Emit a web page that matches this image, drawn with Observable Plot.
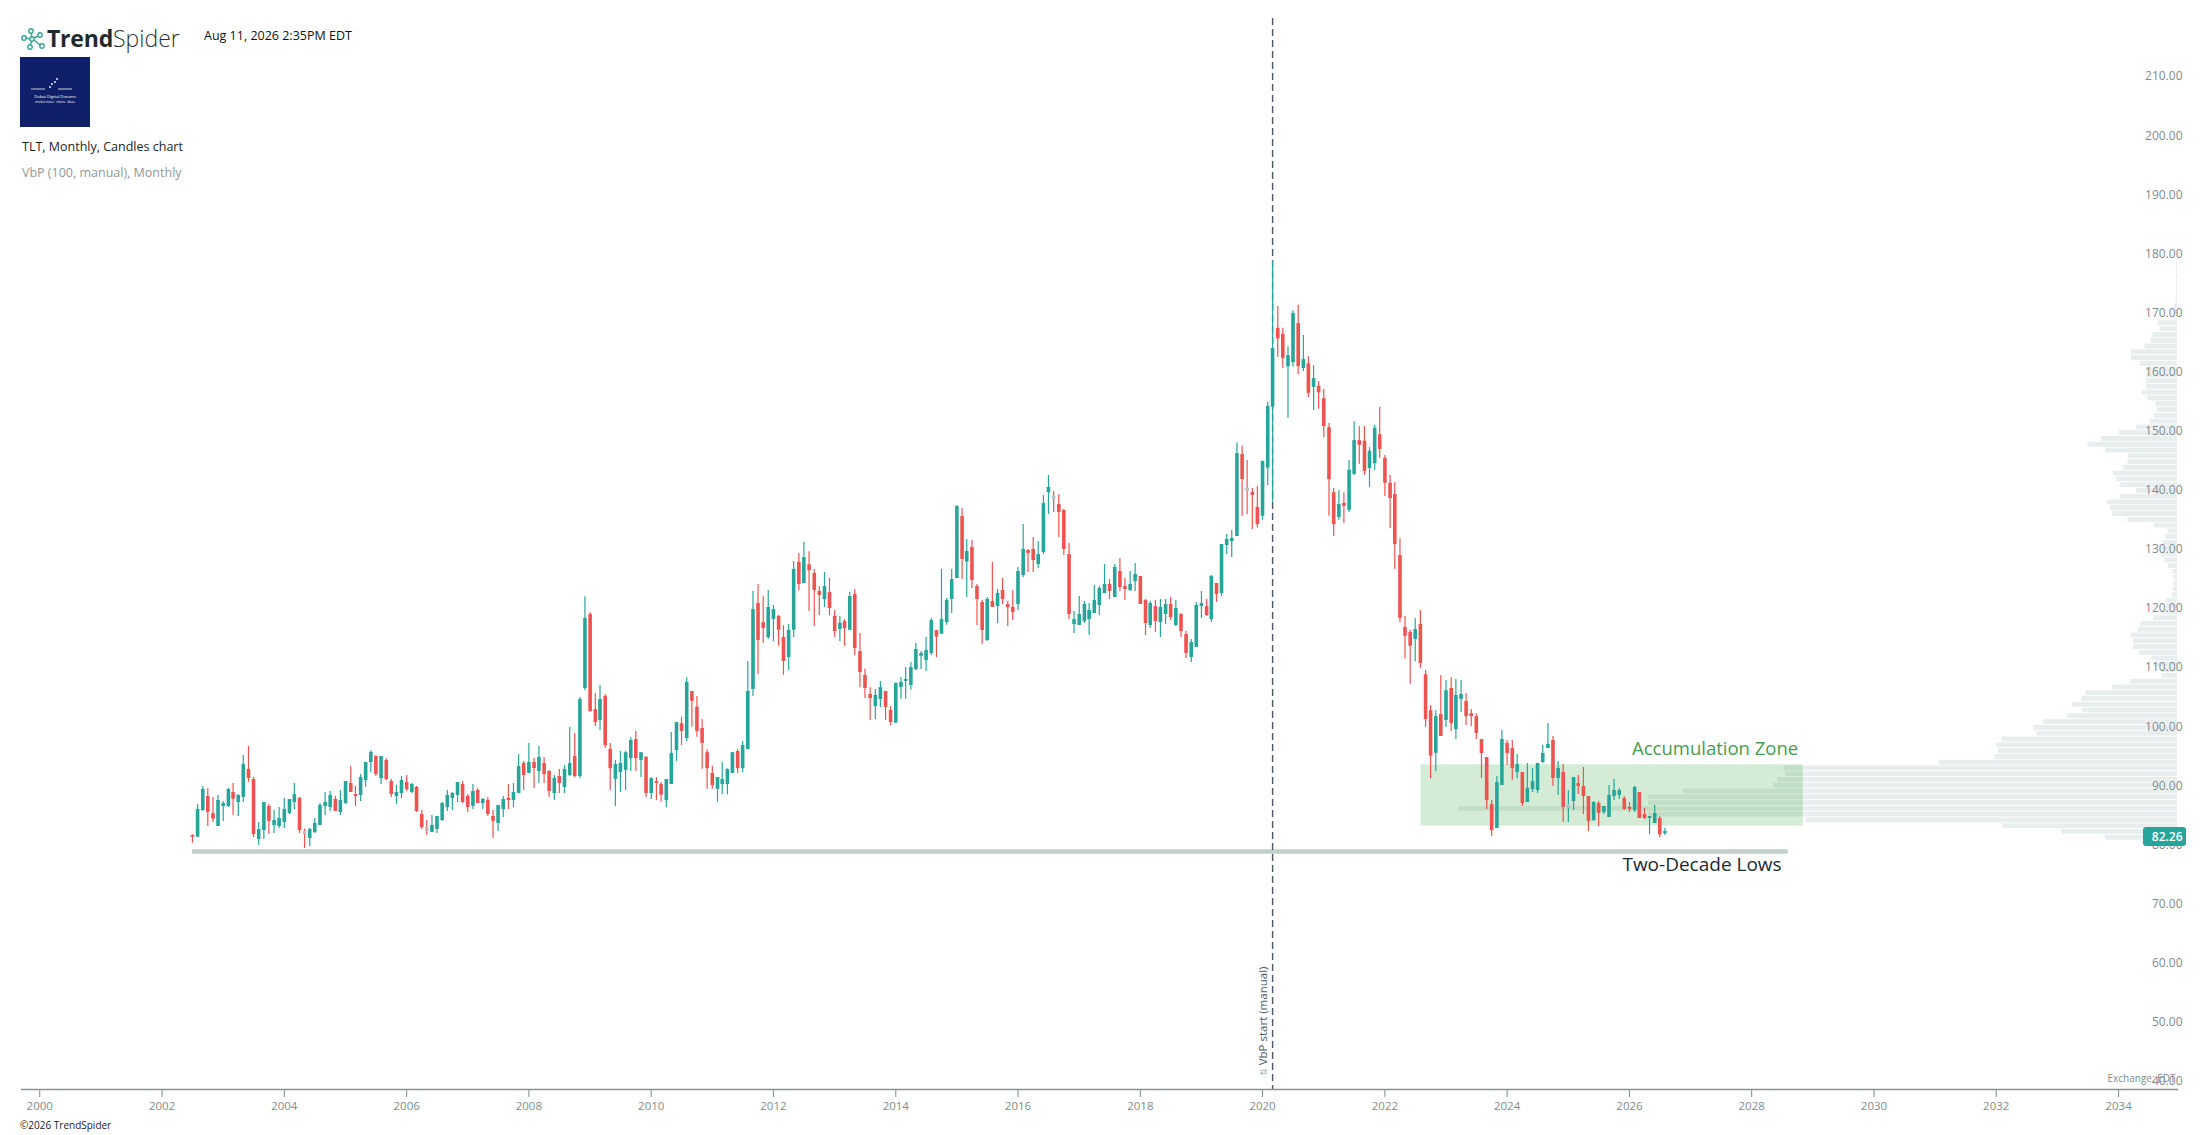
<!DOCTYPE html>
<html>
<head>
<meta charset="utf-8">
<script src="https://cdn.jsdelivr.net/npm/d3@7"></script>
<script src="https://cdn.jsdelivr.net/npm/@observablehq/plot@0.6"></script>
<style>
  html, body { margin: 0; padding: 0; background: #fff; }
  #wrap { position: relative; width: 2207px; height: 1135px; overflow: hidden; font-family: 'Open Sans', sans-serif; }
  #chart { position: absolute; left: 0; top: 0; }
  .hdr { position: absolute; white-space: nowrap; }
</style>
</head>
<body>
<div id="wrap">
  <div id="chart"></div>
  <div class="hdr" style="left:20px;top:22px;">
    <svg width="27" height="25" viewBox="0 0 27 25" style="vertical-align:middle">
      <g fill="none" stroke="#3aa596" stroke-width="1.4">
        <circle cx="4" cy="12" r="2.2"/><circle cx="11" cy="5" r="2.2"/><circle cx="12" cy="13" r="2.2"/>
        <circle cx="10" cy="21" r="2.2"/><circle cx="20" cy="9" r="2.2"/><circle cx="22" cy="20" r="2.2"/>
        <path d="M6 12 L10 13 M11 7 L12 11 M12 15 L10 19 M14 12 L18 10 M14 14 L20 19"/>
      </g>
    </svg><span style="font-size:23px;color:#1f2b2b;font-weight:700;vertical-align:middle;letter-spacing:-0.2px">Trend</span><span style="font-size:23px;color:#2b3636;font-weight:300;vertical-align:middle">Spider</span>
  </div>
  <div class="hdr" style="left:204px;top:27px;font-size:12.5px;color:#111;font-weight:500">Aug 11, 2026 2:35PM EDT</div>
  <div class="hdr" style="left:20px;top:57px;width:70px;height:70px;background:#0f1f69;">
    <svg width="70" height="70" viewBox="0 0 70 70">
      <g stroke="#fff" stroke-width="0.8" fill="#fff">
        <line x1="11" y1="32" x2="25" y2="32"/><line x1="38" y1="32" x2="52" y2="32"/>
        <circle cx="30" cy="30" r="0.6"/><circle cx="32" cy="27" r="0.6"/><circle cx="35" cy="25" r="0.6"/><circle cx="37" cy="22" r="0.6"/>
      </g>
      <text x="35" y="41" fill="#fff" font-size="4.2" text-anchor="middle">Dubai Digital Dreams</text>
      <text x="35" y="46" fill="#fff" font-size="3" text-anchor="middle">market notes · charts · ideas</text>
    </svg>
  </div>
  <div class="hdr" style="left:22px;top:138px;font-size:12.5px;color:#1c2626">TLT, Monthly, Candles chart</div>
  <div class="hdr" style="left:22px;top:164px;font-size:12.5px;color:#8e9a9a">VbP (100, manual), Monthly</div>
  <div class="hdr" style="left:20px;top:1118px;font-size:10px;color:#222">©2026 TrendSpider</div>
</div>
<script>
// ---------------- DATA ----------------
const firstMonth = "2002-07-01";   // first monthly candle (TLT)
const open = [
81.59,81.30,85.82,88.19,85.31,83.11,86.50,86.50,88.86,87.17,88.02,92.76,91.06,80.91,82.43,86.50,83.28,83.11,83.79,85.31,
87.17,87.85,82.04,81.08,82.10,83.28,86.50,86.33,87.68,85.48,87.00,90.39,88.52,88.36,90.89,93.94,94.95,91.23,94.28,90.72,
88.19,88.69,90.56,88.86,89.71,85.14,82.55,82.10,82.60,84.13,86.33,87.85,88.36,90.22,88.19,86.50,89.20,87.00,87.51,84.80,
83.62,85.99,87.85,87.51,88.69,93.77,92.08,93.94,92.42,93.77,92.42,88.69,91.57,89.71,91.74,94.96,91.57,106.46,118.99,102.90,
101.05,105.10,96.14,91.07,92.25,92.60,94.60,97.80,94.28,94.80,88.70,90.70,90.20,87.50,90.20,95.97,100.50,98.00,105.96,103.30,
99.70,95.60,92.08,89.40,90.20,90.20,92.08,95.80,92.90,96.14,106.30,120.85,117.60,115.09,118.14,118.65,115.09,111.70,116.30,127.80,
124.23,127.40,125.92,122.88,121.50,122.70,118.65,116.45,117.80,116.30,122.37,112.70,108.66,105.45,103.40,104.60,105.96,102.74,100.60,106.63,
107.64,106.97,109.67,111.93,111.20,112.38,116.27,115.65,117.63,121.52,125.07,135.56,127.84,130.32,123.72,121.01,114.58,121.18,120.33,123.04,
120.67,120.17,120.67,125.58,129.81,129.98,127.44,129.47,139.62,138.72,137.59,136.58,129.13,117.29,117.12,117.80,118.13,119.15,120.50,122.53,
124.06,121.86,126.26,123.72,123.04,124.56,125.41,121.35,117.12,120.33,117.63,118.98,120.67,117.12,118.98,115.60,111.70,113.40,120.33,120.33,
118.13,124.23,122.53,130.66,131.33,132.18,146.05,140.07,139.62,137.09,135.60,143.75,154.07,167.40,166.40,160.90,161.60,168.20,160.60,161.40,
157.40,157.60,155.50,150.60,139.60,135.40,137.77,136.60,142.70,148.40,148.30,143.70,144.50,149.40,145.40,141.20,139.30,128.97,116.80,115.95,
114.76,117.30,108.80,102.70,95.50,102.06,101.05,106.46,99.50,104.60,104.26,102.20,101.70,97.83,94.79,86.83,82.77,90.05,97.16,96.30,
92.25,92.25,87.17,89.37,89.20,93.94,96.30,97.66,91.23,92.25,86.50,87.34,90.39,89.88,88.19,84.13,87.00,85.48,84.63,88.19,
88.36,87.85,86.33,85.82,88.87,85.14,84.47,83.62,84.47,81.90];
const high = [
81.70,86.83,89.88,89.54,88.02,88.36,87.34,89.54,90.39,88.52,95.12,96.65,91.40,83.79,87.17,86.83,85.82,86.33,87.85,87.68,
90.39,88.02,82.70,82.77,84.46,87.00,88.86,89.03,88.19,89.20,90.72,93.26,89.88,91.91,93.94,95.97,95.12,94.95,94.62,91.06,
90.05,91.57,91.74,90.39,89.88,85.82,84.13,84.97,84.80,87.17,89.20,88.86,90.56,90.72,88.52,90.22,89.54,87.85,88.02,85.82,
86.66,88.19,90.22,90.39,95.29,94.11,97.15,94.62,96.65,94.79,92.59,91.74,92.76,93.43,99.86,98.85,104.94,122.00,119.30,105.60,
106.97,105.45,97.16,94.30,95.80,95.80,98.17,99.20,95.60,94.96,91.40,91.40,90.56,91.07,99.00,100.70,101.60,108.30,105.96,105.10,
101.20,96.10,93.30,91.40,93.95,92.90,95.60,96.14,97.50,111.03,122.88,124.06,122.00,123.05,120.50,118.80,117.10,117.30,127.95,129.30,
131.20,129.60,126.60,123.70,126.09,125.08,119.66,118.65,118.14,122.70,123.20,115.77,109.70,106.60,106.30,107.65,105.96,103.40,107.40,108.32,
110.01,110.86,114.07,112.72,115.09,118.30,116.27,126.60,121.69,126.60,137.42,136.92,131.67,131.50,124.06,121.35,121.86,127.78,123.21,125.07,
121.18,123.04,126.93,134.21,129.98,132.01,131.33,139.12,142.50,139.79,139.29,136.75,131.00,119.49,122.03,121.18,120.84,123.89,123.72,127.44,
124.90,127.44,128.46,125.07,126.26,127.61,125.41,121.52,121.18,121.35,121.52,121.52,121.86,121.35,119.15,116.10,114.75,121.01,122.87,121.52,
125.58,124.23,130.83,132.52,133.19,148.00,147.50,145.04,140.30,140.64,144.90,154.90,178.70,171.10,167.40,164.30,170.40,171.30,166.20,162.60,
161.10,158.40,157.06,151.30,140.30,139.97,139.60,145.05,151.60,150.80,150.80,147.25,150.97,154.00,145.90,142.50,141.30,131.80,118.70,116.30,
118.30,119.67,109.50,103.60,102.70,108.66,107.80,108.30,107.99,107.80,105.60,102.90,102.20,97.83,94.79,87.50,91.57,99.36,97.66,97.66,
95.30,92.25,93.77,92.93,93.77,96.80,100.54,98.34,94.10,93.60,89.20,91.40,91.74,93.10,88.19,87.34,87.34,86.50,90.05,91.07,
89.55,88.19,87.17,89.88,88.87,86.16,84.80,86.67,84.80,82.80];
const low = [
80.29,81.30,85.65,83.11,83.79,83.11,83.96,86.33,84.97,84.80,87.17,90.56,81.25,79.90,80.91,81.76,81.93,82.77,82.77,85.14,
85.99,81.93,79.39,79.73,81.93,83.28,84.97,85.65,85.65,84.97,86.83,88.86,86.50,87.34,89.71,92.25,91.57,90.22,90.89,88.02,
86.83,87.85,89.03,88.69,85.48,82.60,81.59,82.10,81.93,83.96,85.65,85.82,87.17,87.00,85.48,85.99,87.00,85.99,84.80,81.08,
82.26,84.63,85.99,86.33,88.69,89.20,92.08,89.54,90.39,90.39,88.02,87.51,88.69,88.69,91.57,91.30,91.20,106.10,102.40,100.03,
99.36,96.30,89.20,86.50,88.90,89.20,92.40,92.40,91.40,88.00,87.70,87.50,87.20,86.30,90.20,94.10,96.80,97.50,99.90,98.20,
92.80,89.40,89.40,87.20,88.50,88.50,92.08,92.08,92.25,96.14,105.10,108.80,114.08,114.75,114.40,113.60,108.70,109.50,115.09,123.05,
124.23,119.50,116.95,118.80,120.17,118.80,115.09,114.40,113.60,116.30,112.05,106.60,104.77,101.05,101.20,103.25,101.05,100.20,100.60,104.65,
104.65,106.18,109.50,109.67,109.34,112.04,111.70,115.65,117.18,119.15,125.07,124.90,121.86,123.38,117.12,113.90,114.41,120.17,117.46,120.67,
116.95,117.96,119.66,125.24,126.09,126.09,126.76,129.13,135.90,136.24,132.01,128.97,118.13,115.77,117.12,117.46,115.43,119.15,118.81,122.53,
121.52,121.86,122.87,121.35,122.87,122.87,120.67,115.43,116.61,115.94,115.09,117.29,117.96,116.95,115.09,111.53,110.86,113.40,118.30,118.64,
117.63,121.01,122.03,129.13,128.63,132.18,135.56,135.90,133.36,133.60,134.95,140.80,138.00,162.50,160.60,152.20,160.80,159.60,160.10,155.70,
153.50,153.70,148.90,135.60,132.20,134.90,134.40,136.25,142.50,144.40,142.50,140.50,143.35,145.40,138.95,133.50,126.60,117.60,111.50,107.20,
111.00,109.85,99.90,91.20,92.40,98.34,99.87,99.20,97.80,102.40,100.20,100.03,97.83,91.23,86.00,81.40,82.77,90.05,93.43,90.90,
91.20,86.50,87.17,88.87,88.70,93.77,96.30,89.88,88.36,83.80,83.80,85.82,88.53,85.14,82.27,83.96,83.11,85.14,84.63,87.51,
87.68,85.82,85.48,85.48,84.47,84.30,81.76,83.62,81.20,81.60];
const close = [
81.30,85.99,89.37,85.50,84.35,87.51,87.00,89.37,87.73,88.36,93.60,91.23,81.76,82.60,87.17,83.96,84.13,84.46,85.99,87.68,
88.52,82.43,82.04,82.60,83.62,86.66,87.17,88.36,85.65,87.51,90.72,88.86,88.19,91.40,93.94,95.63,91.91,94.95,91.06,88.52,
88.86,90.89,89.37,90.22,85.65,82.94,82.55,83.28,84.80,87.00,88.36,88.69,90.56,87.17,86.33,89.03,87.00,87.68,85.14,83.96,
86.66,87.68,87.51,88.86,93.26,91.74,93.94,92.92,94.79,91.91,89.03,91.23,90.39,92.76,93.77,91.57,104.60,118.30,102.57,100.70,
104.60,96.80,92.90,93.60,93.77,95.60,97.66,94.60,95.60,88.70,91.20,90.40,88.40,91.07,95.46,100.70,99.20,107.50,104.30,99.20,
97.16,92.90,90.05,91.40,91.07,92.76,95.60,92.90,96.80,105.96,119.80,114.60,116.60,120.17,119.80,116.30,111.03,116.30,126.60,124.06,
128.60,126.40,123.05,122.20,123.70,120.00,116.10,117.50,116.60,122.03,113.23,109.17,106.46,104.77,105.30,106.60,103.25,100.70,107.31,107.47,
107.98,110.01,113.06,112.38,112.89,117.96,115.15,118.13,121.35,124.90,137.25,128.29,129.64,124.73,121.52,116.27,121.52,120.17,122.53,121.52,
120.17,119.32,126.26,129.98,129.30,128.12,129.13,137.76,140.47,138.72,136.24,129.98,118.98,118.13,118.98,120.67,119.66,121.35,123.38,124.06,
122.87,126.93,123.55,123.21,124.06,125.75,120.67,117.46,120.84,117.80,120.17,120.67,118.47,120.00,116.10,112.38,114.24,120.50,120.84,118.81,
125.41,122.37,130.83,131.67,131.84,146.22,141.82,140.07,139.12,134.21,144.90,154.20,164.00,165.60,162.30,162.80,169.90,160.95,162.10,156.40,
158.90,156.50,150.80,141.80,134.20,137.60,137.26,143.40,148.40,147.60,143.20,146.60,150.50,146.90,141.20,138.60,130.80,118.30,115.30,113.60,
116.45,110.70,101.20,95.00,101.70,98.34,106.10,100.54,105.30,105.45,101.70,101.70,98.85,95.46,87.50,82.40,90.56,97.83,95.46,92.90,
93.60,87.00,89.55,90.73,93.77,95.46,96.99,91.23,92.93,86.33,86.50,91.40,89.88,88.19,83.96,87.17,85.31,86.50,88.36,89.20,
89.20,85.99,85.99,89.71,84.47,84.47,84.80,85.31,81.70,82.26];

// Volume-by-price profile (100 bins, manual start Mar 2020), relative volume per bin, lowest bin first
const vbpStartDate = "2020-03-01";
const vbpLow = 80.72, vbpHigh = 178.52;
const vbpVolume = [
10.0,16.1,24.3,51.7,73.6,100,73.6,73.6,68.8,56.2,55.6,54.5,54.8,33.1,25.4,24.9,25.1,24.4,19.6,20.0,
18.6,15.3,13.2,14.6,13.3,12.8,9.0,6.5,2.1,2.1,3.1,3.6,5.3,6.1,6.1,6.5,5.5,5.1,3.3,2.1,
1.5,1.5,0.7,0.6,0.5,0.5,0.6,1.2,1.8,2.3,2.3,2.0,1.6,1.3,3.2,6.9,9.0,9.3,9.7,8.0,
5.7,7.9,8.5,8.9,7.5,6.9,6.8,10.0,12.5,10.6,8.1,5.7,3.8,3.2,2.8,3.0,4.1,4.9,4.3,4.3,
4.3,4.3,5.2,6.4,6.4,4.5,3.7,3.4,2.4,2.7,0.2,0.3,0.4,0.2,0.15,0.15,0.15,0.15,0.15,0.15];

// Annotations
const zoneStart = "2022-08-05", zoneEnd = "2028-11-05", zoneLow = 83.17, zoneHigh = 93.55;
const zoneLabel = "Accumulation Zone", zoneLabelDate = "2028-10-05", zoneLabelPrice = 96.2;
const lowsPrice = 78.88, lowsStart = "2002-07-01", lowsEnd = "2028-08-07";
const lowsLabel = "Two-Decade Lows", lowsLabelDate = "2028-06-28", lowsLabelPrice = 76.6;
const yTicks = [40,50,60,70,80,90,100,110,120,130,140,150,160,170,180,190,200,210];
const xDomain = ["1999-09-14", "2034-12-19"];
const yDomain = [38.61, 219.83];

// ---------------- BUILD ----------------
const UP = "#26a69a", DOWN = "#ef5350", FLAT = "#b7c0c0";
const d0 = new Date(firstMonth);
const candles = open.map((o, i) => {
  const c = close[i];
  const prev = i ? close[i - 1] : o;
  const dir = c > o ? 1 : c < o ? -1 : 0;
  const wickCol = dir > 0 ? UP : dir < 0 ? DOWN : (c >= prev ? UP : DOWN);
  return {date: d3.utcMonth.offset(d0, i), open: o, high: high[i], low: low[i], close: c,
          bodyCol: dir > 0 ? UP : dir < 0 ? DOWN : FLAT, wickCol, doji: dir === 0};
});

const xMin = new Date(xDomain[0]), xMax = new Date(xDomain[1]);
const span = xMax - xMin;
const maxVol = d3.max(vbpVolume);
const vbpMaxFrac = 1 / 3;        // longest profile bar = one third of the plot width
const binH = (vbpHigh - vbpLow) / vbpVolume.length;
const vbp = vbpVolume.map((v, k) => ({
  lo: vbpLow + k * binH, hi: vbpLow + (k + 1) * binH,
  x1: new Date(+xMax - (v / maxVol) * span * vbpMaxFrac), x2: xMax
}));
const last = candles[candles.length - 1];

const chart = Plot.plot({
  width: 2207, height: 1135,
  marginLeft: 21, marginRight: 30, marginTop: 18, marginBottom: 46,
  x: {type: "utc", domain: [xMin, xMax]},
  y: {domain: yDomain, axis: null},
  style: {fontFamily: "'Open Sans', sans-serif", fontSize: "12px", background: "white", overflow: "visible"},
  marks: [
    Plot.rect(vbp, {x1: "x1", x2: "x2", y1: "lo", y2: "hi", fill: "#e8eded", insetTop: 0.5, insetBottom: 0.5}),
    Plot.rect([0], {x1: () => new Date(zoneStart), x2: () => new Date(zoneEnd), y1: () => zoneLow, y2: () => zoneHigh,
                    fill: "#4caf50", fillOpacity: 0.24}),
    Plot.ruleY([lowsPrice], {x1: () => new Date(lowsStart), x2: () => new Date(lowsEnd), stroke: "#c3cfcb", strokeWidth: 4.5}),
    Plot.ruleX([new Date(vbpStartDate)], {stroke: "#4a5568", strokeWidth: 1.4, strokeDasharray: "7,4"}),
    Plot.ruleX(candles, {x: "date", y1: "low", y2: "high", stroke: "wickCol", strokeWidth: 1.2}),
    Plot.ruleX(candles.filter(d => !d.doji), {x: "date", y1: "open", y2: "close", stroke: "bodyCol", strokeWidth: 3.6}),
    Plot.ruleX(candles.filter(d => d.doji), {x: "date", y1: "open", y2: "close", stroke: FLAT, strokeWidth: 3.6, strokeLinecap: "square"}),
    Plot.axisX({ticks: d3.utcYear.every(2), tickFormat: "%Y", tickSize: 8, tickPadding: 4, color: "#7f8c8d", fontSize: 11.5, label: null}),
    Plot.frame({anchor: "bottom", stroke: "#8a9292", strokeWidth: 1.5}),
    Plot.text(yTicks, {y: d => d, text: d => d.toFixed(2), frameAnchor: "right", textAnchor: "end", dx: 5, fill: "#7f8c8d", fontSize: 12}),
    Plot.text(["Exchange: EDT"], {frameAnchor: "bottom-right", textAnchor: "end", dy: -8, dx: -2, fill: "#7f8c8d", fontSize: 10}),
    Plot.rect([last], {y1: d => d.close - 2.55, y2: d => d.close + 0.7, fill: UP, rx: 3, insetLeft: 2122, insetRight: -9}),
    Plot.text([last], {y: "close", text: d => d.close.toFixed(2), frameAnchor: "right", textAnchor: "end", dx: 5, dy: 5.5,
                       fill: "white", fontSize: 12, fontWeight: 600}),
    Plot.text([zoneLabel], {x: () => new Date(zoneLabelDate), y: () => zoneLabelPrice, textAnchor: "end", fill: "#4a9c50", fontSize: 18.5}),
    Plot.text([lowsLabel], {x: () => new Date(lowsLabelDate), y: () => lowsLabelPrice, textAnchor: "end", fill: "#1b2a2f", fontSize: 19}),
    Plot.text(["VbP start (manual)"], {x: () => new Date(vbpStartDate), y: () => 42.7, rotate: -90, textAnchor: "start",
                                       dx: -9, fill: "#4a5a6a", fontSize: 11.5}),
    Plot.text(["⇅"], {x: () => new Date(vbpStartDate), y: () => 41.5, rotate: -90, dx: -9, fill: "#a9c0b8", fontSize: 10})
  ]
});
document.getElementById("chart").appendChild(chart);
</script>
</body>
</html>
